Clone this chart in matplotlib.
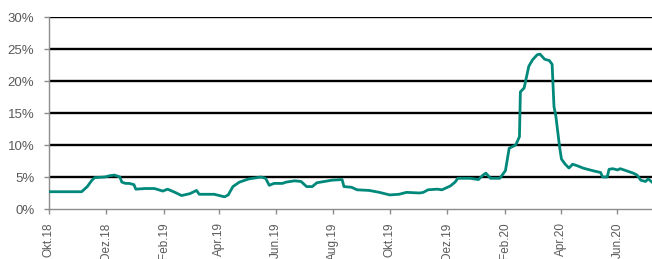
import numpy as np
import pandas as pd
import matplotlib.pyplot as plt
import matplotlib.dates as mdates
from matplotlib.ticker import FuncFormatter

plt.rcParams['font.family'] = ['Liberation Sans', 'DejaVu Sans']

dates = ['2018-10-01', '2018-11-05', '2018-11-11', '2018-11-16', '2018-11-19', '2018-11-30',
         '2018-12-05', '2018-12-10', '2018-12-16', '2018-12-18', '2018-12-22', '2018-12-26',
         '2018-12-31', '2019-01-02', '2019-01-12', '2019-01-22', '2019-01-31', '2019-02-05',
         '2019-02-13', '2019-02-20', '2019-03-01', '2019-03-08', '2019-03-11', '2019-03-27',
         '2019-04-07', '2019-04-11', '2019-04-16', '2019-04-23', '2019-05-03', '2019-05-12',
         '2019-05-16', '2019-05-21', '2019-05-25', '2019-05-30', '2019-06-08', '2019-06-12',
         '2019-06-21', '2019-06-28', '2019-07-04', '2019-07-10', '2019-07-15', '2019-07-23',
         '2019-07-31', '2019-08-11', '2019-08-13', '2019-08-21', '2019-08-27', '2019-09-09',
         '2019-09-20', '2019-10-01', '2019-10-11', '2019-10-19', '2019-11-02', '2019-11-06',
         '2019-11-11', '2019-11-21', '2019-11-26', '2019-12-05', '2019-12-10', '2019-12-13',
         '2019-12-26', '2020-01-04', '2020-01-09', '2020-01-12', '2020-01-17', '2020-01-27',
         '2020-02-02', '2020-02-06', '2020-02-13', '2020-02-17', '2020-02-18', '2020-02-22',
         '2020-02-27', '2020-03-02', '2020-03-07', '2020-03-10', '2020-03-15', '2020-03-20',
         '2020-03-23', '2020-03-25', '2020-03-27', '2020-03-31', '2020-04-02', '2020-04-06',
         '2020-04-10', '2020-04-14', '2020-04-20', '2020-04-25', '2020-04-30', '2020-05-08',
         '2020-05-14', '2020-05-16', '2020-05-21', '2020-05-23', '2020-05-27', '2020-06-01',
         '2020-06-04', '2020-06-12', '2020-06-18', '2020-06-22', '2020-06-26', '2020-07-01',
         '2020-07-04', '2020-07-08']
values = [2.7, 2.7, 3.5, 4.5, 4.9, 5.0,
          5.2, 5.3, 5.0, 4.2, 4.0, 4.0,
          3.8, 3.1, 3.2, 3.2, 2.8, 3.1,
          2.6, 2.1, 2.4, 2.9, 2.3, 2.3,
          1.9, 2.2, 3.5, 4.2, 4.7, 4.9,
          5.0, 4.8, 3.7, 4.0, 4.0, 4.2,
          4.4, 4.3, 3.5, 3.5, 4.1, 4.3,
          4.5, 4.6, 3.5, 3.4, 3.0, 2.9,
          2.6, 2.2, 2.3, 2.6, 2.5, 2.6,
          3.0, 3.1, 3.0, 3.6, 4.2, 4.8,
          4.8, 4.6, 5.3, 5.6, 4.8, 4.8,
          6.0, 9.5, 10.0, 11.3, 18.3, 18.9,
          22.3, 23.3, 24.1, 24.2, 23.4, 23.2,
          22.6, 16.0, 14.5, 9.7, 7.8, 7.0,
          6.4, 7.0, 6.7, 6.4, 6.2, 5.9,
          5.7, 5.0, 5.0, 6.2, 6.3, 6.1,
          6.3, 5.9, 5.6, 5.3, 4.5, 4.3,
          4.7, 4.2]

tick_dates = ['2018-10-01', '2018-12-01', '2019-02-01', '2019-04-01', '2019-06-01',
              '2019-08-01', '2019-10-01', '2019-12-01', '2020-02-01', '2020-04-01', '2020-06-01']
tick_labels = ['Okt.18', 'Dez.18', 'Feb.19', 'Apr.19', 'Jun.19', 'Aug.19',
               'Okt.19', 'Dez.19', 'Feb.20', 'Apr.20', 'Jun.20']

x = pd.to_datetime(dates)
gray = '#595959'

fig = plt.figure(figsize=(6.52, 2.59), dpi=100)
ax = fig.add_axes([49 / 652, 1 - 209 / 259, 1 - 49 / 652, 192 / 259])

for yv in range(5, 31, 5):
    ax.axhline(yv, color='black', lw=1.7, zorder=1)
ax.plot(x, values, color='#00897B', lw=2.0, zorder=3, solid_joinstyle='round')

ax.set_ylim(0, 30)
ax.set_yticks(range(0, 31, 5))
ax.yaxis.set_major_formatter(FuncFormatter(lambda v, p: f'{int(v)}%'))
ax.set_xlim(pd.Timestamp('2018-10-01'), pd.Timestamp('2020-07-08'))
ax.set_xticks(pd.to_datetime(tick_dates))
ax.set_xticklabels(tick_labels, rotation=90)

for s in ['top', 'right']:
    ax.spines[s].set_visible(False)
for s in ['left', 'bottom']:
    ax.spines[s].set_color('#8c8c8c')
    ax.spines[s].set_linewidth(1.0)
ax.tick_params(axis='both', colors='#8c8c8c', labelcolor=gray, length=3.6, width=1.0)
ax.tick_params(axis='x', pad=6, labelsize=8.5)
ax.tick_params(axis='y', pad=7, labelsize=9.5)

fig.savefig('out.png', dpi=100)
